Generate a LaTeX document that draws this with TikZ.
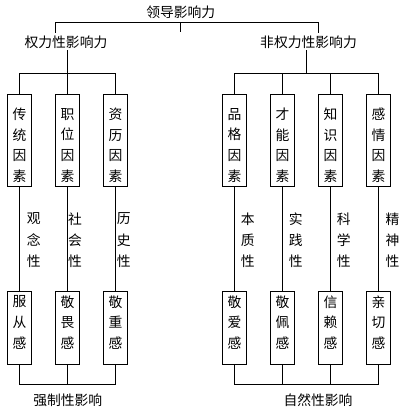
\documentclass[tikz,border=0pt]{standalone}
\usepackage{fontspec}
\newfontfamily\cjk{Noto Sans CJK SC}
\begin{document}
\begin{tikzpicture}[x=1pt,y=-1pt,line width=1pt,
  lbl/.style={inner sep=0pt,font=\cjk\fontsize{13.8}{13.8}\selectfont},
  vlbl/.style={inner sep=0pt,align=center,font=\cjk\fontsize{13.8}{20.6}\selectfont},
  slbl/.style={inner sep=0pt,align=center,font=\cjk\fontsize{13.8}{21.4}\selectfont},
  box/.style={draw,line width=1pt,minimum width=24.4pt,inner sep=0pt},
  ubox/.style={box,minimum height=92.5pt},
  lbox/.style={box,minimum height=73.3pt}]
\useasboundingbox[fill=white] (0,0) rectangle (411,413);
% titles
\node[lbl] (T) at (180.8,12.5) {领导影响力};
\node[lbl] (P) at (66,42.5) {权力性影响力};
\node[lbl] (N) at (308.5,42.5) {非权力性影响力};
\node[lbl] (PB) at (67.8,400) {强制性影响};
\node[lbl] (NB) at (318,400) {自然性影响};
% top connectors
\coordinate (tl) at (55,22);
\coordinate (tr) at (318,22);
\coordinate (tm) at (180.5,22);
\coordinate (tmd) at (180.5,32);
\coordinate (tlb) at (55,33);
\coordinate (trb) at (318,33);
\draw (tl) -- (tr);
\draw (tm) -- (tmd);
\draw (tl) -- (tlb);
\draw (tr) -- (trb);
% upper boxes
\foreach \i/\x in {1/19.5,2/67.5,3/115.5,4/234.5,5/282.5,6/330.5,7/378.5}{
  \node[ubox] (u\i) at (\x,140.25) {};
  \node[lbox] (l\i) at (\x,327.65) {};
}
\node[vlbl] (tu1) at (19.5,145.3) {传\\统\\因\\素};
\node[vlbl] (tu2) at (67.5,145.3) {职\\位\\因\\素};
\node[vlbl] (tu3) at (115.5,145.3) {资\\历\\因\\素};
\node[vlbl] (tu4) at (234.5,145.3) {品\\格\\因\\素};
\node[vlbl] (tu5) at (282.5,145.3) {才\\能\\因\\素};
\node[vlbl] (tu6) at (330.5,145.3) {知\\识\\因\\素};
\node[vlbl] (tu7) at (378.5,145.3) {感\\情\\因\\素};
\node[vlbl] (tl1) at (19.5,322.5) {服\\从\\感};
\node[vlbl] (tl2) at (67.5,322.5) {敬\\畏\\感};
\node[vlbl] (tl3) at (115.5,322.5) {敬\\重\\感};
\node[vlbl] (tl4) at (234.5,322.5) {敬\\爱\\感};
\node[vlbl] (tl5) at (282.5,322.5) {敬\\佩\\感};
\node[vlbl] (tl6) at (330.5,322.5) {信\\赖\\感};
\node[vlbl] (tl7) at (378.5,322.5) {亲\\切\\感};
% side labels
\node[slbl] (s1) at (33.7,240.2) {观\\念\\性};
\node[slbl] (s2) at (75,240.2) {社\\会\\性};
\node[slbl] (s3) at (123.7,240.2) {历\\史\\性};
\node[slbl] (s4) at (247.8,240.2) {本\\质\\性};
\node[slbl] (s5) at (295.8,240.2) {实\\践\\性};
\node[slbl] (s6) at (343.7,240.2) {科\\学\\性};
\node[slbl] (s7) at (392.5,240.2) {精\\神\\性};
% left subtree
\coordinate (ps) at (67.5,50);
\coordinate (pj) at (67.5,73.3);
\draw (ps) -- (pj);
\draw (u1.north) -- (u1.north |- pj) -- (u3.north |- pj) -- (u3.north);
\draw (u2.north) -- (pj);
% right subtree
\coordinate (ns) at (306.5,50);
\coordinate (nj) at (306.5,73.3);
\draw (ns) -- (nj);
\draw (u4.north) -- (u4.north |- nj) -- (u7.north |- nj) -- (u7.north);
\draw (u5.north) -- (u5.north |- nj);
\draw (u6.north) -- (u6.north |- nj);
% upper to lower
\foreach \i in {1,...,7}{ \draw (u\i.south) -- (l\i.north); }
% bottom
\coordinate (bj) at (67.5,384.5);
\draw (l1.south) -- (l1.south |- bj) -- (l3.south |- bj) -- (l3.south);
\draw (l2.south) -- (bj);
\coordinate (bk) at (306.5,384.5);
\draw (l4.south) -- (l4.south |- bk) -- (l7.south |- bk) -- (l7.south);
\draw (l5.south) -- (l5.south |- bk);
\draw (l6.south) -- (l6.south |- bk);
\end{tikzpicture}
\end{document}
